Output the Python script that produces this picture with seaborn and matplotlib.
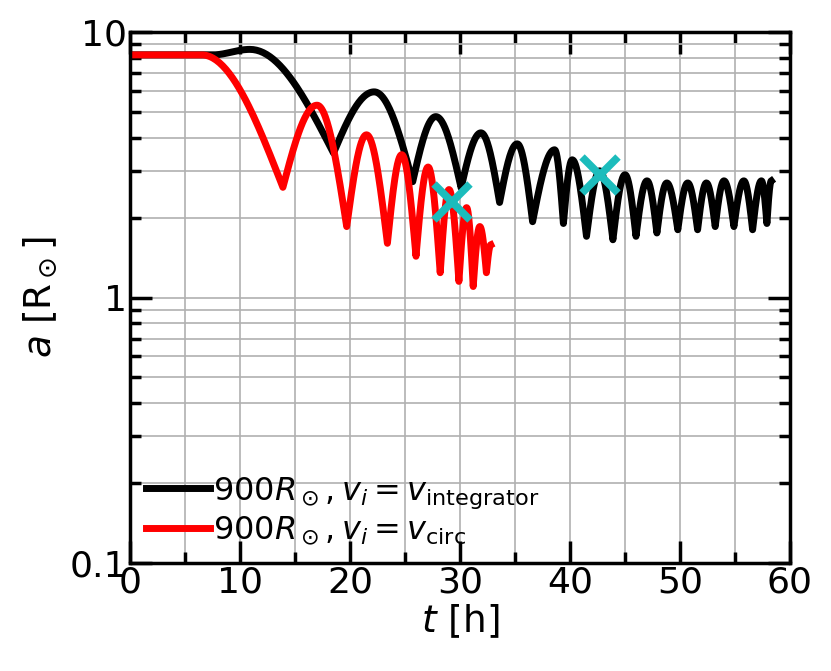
import numpy as np
import pandas as pd
import matplotlib
matplotlib.use("Agg")
import matplotlib.pyplot as plt
import seaborn as sns
import matplotlib.ticker as plticker

# extrema: time [h], separation [Rsun]
t_black = [0, 7.5, 10.9, 18.5, 22.2, 25.7, 27.8, 30.1, 31.9, 33.6, 35.2, 36.6,
           38.6, 39.4, 40.2, 41.5, 42.7, 43.9, 45.0, 46.0, 47.0, 47.9, 48.8,
           49.8, 50.7, 51.6, 52.4, 53.2, 54.0, 54.9, 55.8, 56.6, 57.4, 57.9, 58.3]
a_black = [8.2, 8.2, 8.6, 3.5, 5.95, 2.73, 4.8, 2.59, 4.17, 2.28, 3.79, 1.93,
           3.6, 1.9, 3.3, 1.7, 3.0, 1.65, 2.9, 1.7, 2.75, 1.75, 2.7,
           1.8, 2.7, 1.8, 2.7, 1.85, 2.75, 1.85, 2.75, 1.8, 2.75, 1.9, 2.75]
t_red = [0, 6.5, 13.9, 17.0, 19.7, 21.5, 23.4, 24.7, 26.0, 27.1, 28.2, 29.0,
         29.9, 30.6, 31.2, 31.8, 32.4, 32.8]
a_red = [8.2, 8.2, 2.6, 5.3, 1.85, 4.1, 1.6, 3.45, 1.43, 3.1, 1.24, 2.55,
         1.15, 2.18, 1.1, 1.85, 1.24, 1.58]
t_cross = [29.3, 42.7]
a_cross = [2.28, 2.9]


def smooth(ts, ys, n=50):
    """join successive extrema: broad maxima, cusp-like minima (log space)"""
    tt, yy = [], []
    for i in range(len(ts) - 1):
        s = np.linspace(0, 1, n, endpoint=False)
        if ys[i + 1] < ys[i]:
            w = 1 - np.cos(np.pi / 2 * s)
        elif ys[i + 1] > ys[i]:
            w = np.sin(np.pi / 2 * s)
        else:
            w = s
        if i == 0 or (i == 1 and ts is t_black):
            w = (1 - np.cos(np.pi * s)) / 2 if i == 1 else w
        tt.append(ts[i] + (ts[i + 1] - ts[i]) * s)
        yy.append(10 ** (np.log10(ys[i]) + (np.log10(ys[i + 1]) - np.log10(ys[i])) * w))
    tt.append([ts[-1]])
    yy.append([ys[-1]])
    return np.concatenate(tt), np.concatenate(yy)


tb, ab = smooth(t_black, a_black)
tr, ar = smooth(t_red, a_red)
runs = [
    (pd.DataFrame({"t": tb, "a": ab}), "black", r"$900R_\odot, v_i=v_{\rm integrator}$"),
    (pd.DataFrame({"t": tr, "a": ar}), "red", r"$900R_\odot, v_i=v_{\rm circ}$"),
]

plt.rcParams["mathtext.fontset"] = "dejavusans"
fig = plt.figure(figsize=(8.31, 6.71), dpi=100)
ax = fig.add_axes([130 / 831, 1 - 563 / 671, 660 / 831, 531 / 671])

for d, c, lab in runs:
    sns.lineplot(data=d, x="t", y="a", color=c, lw=5, label=lab, ax=ax,
                 sort=False, estimator=None)
ax.plot(t_cross, a_cross, "x", color="#1cbcbc", ms=26, mew=5.5, zorder=5)

ax.set_yscale("log")
ax.set_xlim(0, 60)
ax.set_ylim(0.1, 10)
ax.yaxis.set_major_formatter(plticker.FuncFormatter(lambda v, p: f"{v:g}"))
ax.xaxis.set_minor_locator(plticker.MultipleLocator(5))
ax.grid(True, which="both", color="#b0b0b0", linewidth=1.2)
ax.set_axisbelow(True)
ax.tick_params(which="both", direction="in", top=True, right=True, labelsize=26, width=2.5)
ax.tick_params(which="major", length=16, pad=2)
ax.tick_params(which="minor", length=8)
for sp in ax.spines.values():
    sp.set_linewidth(2.5)
ax.set_xlabel(r"$t$ [h]", fontsize=27, labelpad=2)
ax.set_ylabel(r"$a$ [R$_\odot$]", fontsize=27, labelpad=8)
ax.legend(loc="lower left", frameon=False, fontsize=23, handlelength=2.0,
          handletextpad=0.1, borderaxespad=0.1, labelspacing=0.1)

fig.savefig("out.png", dpi=100)
